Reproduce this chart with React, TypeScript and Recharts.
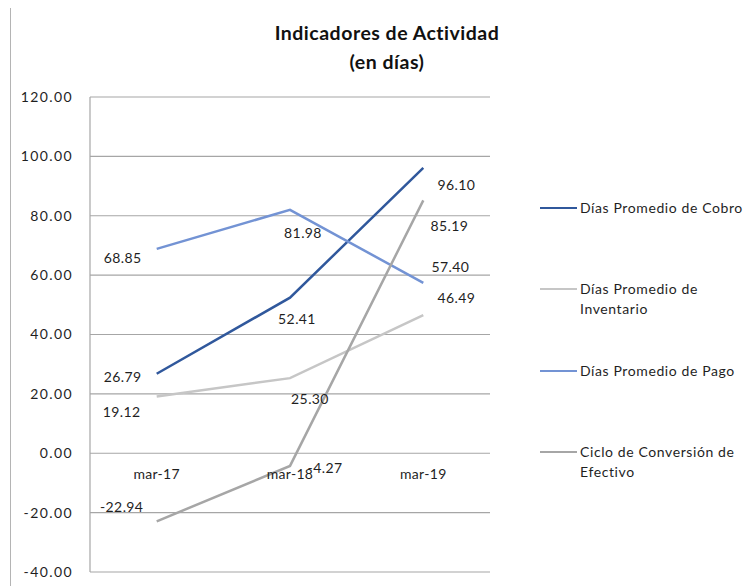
import React from "react";
import {
  LineChart,
  Line,
  XAxis,
  YAxis,
  CartesianGrid,
  LabelList,
  ReferenceDot,
  Legend,
} from "recharts";

const categories = ["mar-17", "mar-18", "mar-19"];
const cobro = [26.79, 52.41, 96.1];
const inventario = [19.12, 25.3, 46.49];
const pago = [68.85, 81.98, 57.4];
const ciclo = [-22.94, -4.27, 85.19];
const yTicks = [-40, -20, 0, 20, 40, 60, 80, 100, 120];

const titleLines = ["Indicadores de Actividad", "(en días)"];

const seriesDefs = [
  { key: "cobro", name: "Días Promedio de Cobro", values: cobro, color: "#30589c" },
  { key: "inventario", name: "Días Promedio de Inventario", values: inventario, color: "#c6c6c6" },
  { key: "pago", name: "Días Promedio de Pago", values: pago, color: "#7393d4" },
  { key: "ciclo", name: "Ciclo de Conversión de Efectivo", values: ciclo, color: "#a6a6a6" },
];

// label placement offsets (dx, dy) relative to each point, per series
const labelOffsets: Record<string, [number, number][]> = {
  cobro: [[-34, 3], [7, 21], [33, 17]],
  inventario: [[-35, 15], [20, 20], [33, -18]],
  pago: [[-34, 9], [13, 23], [27, -16]],
  ciclo: [[-35, -15], [35, 2], [26, 25]],
};

const data = categories.map((c, i) => {
  const row: Record<string, any> = { cat: c };
  seriesDefs.forEach((s) => {
    row[s.key] = s.values[i];
  });
  return row;
});

const FONT = "Lato, 'Open Sans', sans-serif";
const TEXT = "#1f1f1f";

const makeLabel = (key: string) => (props: any) => {
  const { x, y, value, index } = props;
  const off = labelOffsets[key][index] || [0, 0];
  return (
    <text
      x={x + off[0]}
      y={y + off[1]}
      textAnchor="middle"
      dominantBaseline="central"
      fontSize={14}
      letterSpacing={0.4}
      fontFamily={FONT}
      fill={TEXT}
    >
      {Number(value).toFixed(2)}
    </text>
  );
};

const CatLabel = (props: any) => {
  const vb = props.viewBox || {};
  const cx = (vb.x || 0) + (vb.width || 0) / 2;
  const cy = (vb.y || 0) + (vb.height || 0) / 2;
  return (
    <text
      x={cx}
      y={cy + 20}
      textAnchor="middle"
      dominantBaseline="central"
      fontSize={14}
      letterSpacing={0.3}
      fontFamily={FONT}
      fill={TEXT}
    >
      {props.value}
    </text>
  );
};

const LegendContent = () => (
  <div style={{ fontFamily: FONT, fontSize: 14, color: TEXT, letterSpacing: 0.6 }}>
    {seriesDefs.map((s) => (
      <div
        key={s.key}
        style={{ height: 81.3, display: "flex", alignItems: "flex-start" }}
      >
        <div
          style={{
            width: 37,
            height: 0,
            borderTop: `2.5px solid ${s.color}`,
            marginTop: 9,
            marginRight: 3,
            flex: "none",
          }}
        />
        <div style={{ width: 170, lineHeight: "20px" }}>{s.name}</div>
      </div>
    ))}
  </div>
);

export default function App() {
  return (
    <div style={{ position: "relative", width: 745, height: 578 }}>
      <div
        style={{
          position: "absolute",
          left: 2,
          top: -1,
          width: 743,
          height: 579,
          borderLeft: "1.5px solid #b4b4b4",
          borderTop: "1.5px solid #d4d4d4",
          boxSizing: "border-box",
        }}
      />
      <div
        style={{
          position: "absolute",
          left: 179,
          top: 10,
          width: 400,
          textAlign: "center",
          fontFamily: FONT,
          fontWeight: 700,
          fontSize: 19.5,
          letterSpacing: 0.5,
          lineHeight: "29px",
          color: "#111",
        }}
      >
        {titleLines.map((t) => (
          <div key={t}>{t}</div>
        ))}
      </div>
      <LineChart
        width={745}
        height={578}
        data={data}
        margin={{ top: 89, right: 263, bottom: 14, left: 0 }}
      >
        <CartesianGrid vertical={false} stroke="#a6a6a6" strokeWidth={1.2} />
        <XAxis dataKey="cat" hide padding={{ left: 66.7, right: 66.7 }} />
        <YAxis
          width={82}
          domain={[-40, 120]}
          ticks={yTicks}
          interval={0}
          tickFormatter={(v: number) => v.toFixed(2)}
          tickLine={false}
          tickSize={0}
          tickMargin={17}
          axisLine={{ stroke: "#a6a6a6", strokeWidth: 1.2 }}
          tick={{ fontSize: 14, fontFamily: FONT, fill: TEXT, letterSpacing: 1.4 }}
        />
        {categories.map((c) => (
          <ReferenceDot
            key={c}
            x={c}
            y={0}
            r={0}
            fill="none"
            stroke="none"
            label={<CatLabel value={c} />}
          />
        ))}
        {seriesDefs.map((s) => (
          <Line
            key={s.key}
            type="linear"
            dataKey={s.key}
            name={s.name}
            stroke={s.color}
            strokeWidth={2.5}
            dot={false}
            activeDot={false}
            isAnimationActive={false}
          >
            <LabelList dataKey={s.key} content={makeLabel(s.key)} />
          </Line>
        ))}
        <Legend
          layout="vertical"
          align="center"
          verticalAlign="middle"
          content={<LegendContent />}
          wrapperStyle={{ position: "absolute", left: 532, top: 190, width: 215 }}
        />
      </LineChart>
    </div>
  );
}
